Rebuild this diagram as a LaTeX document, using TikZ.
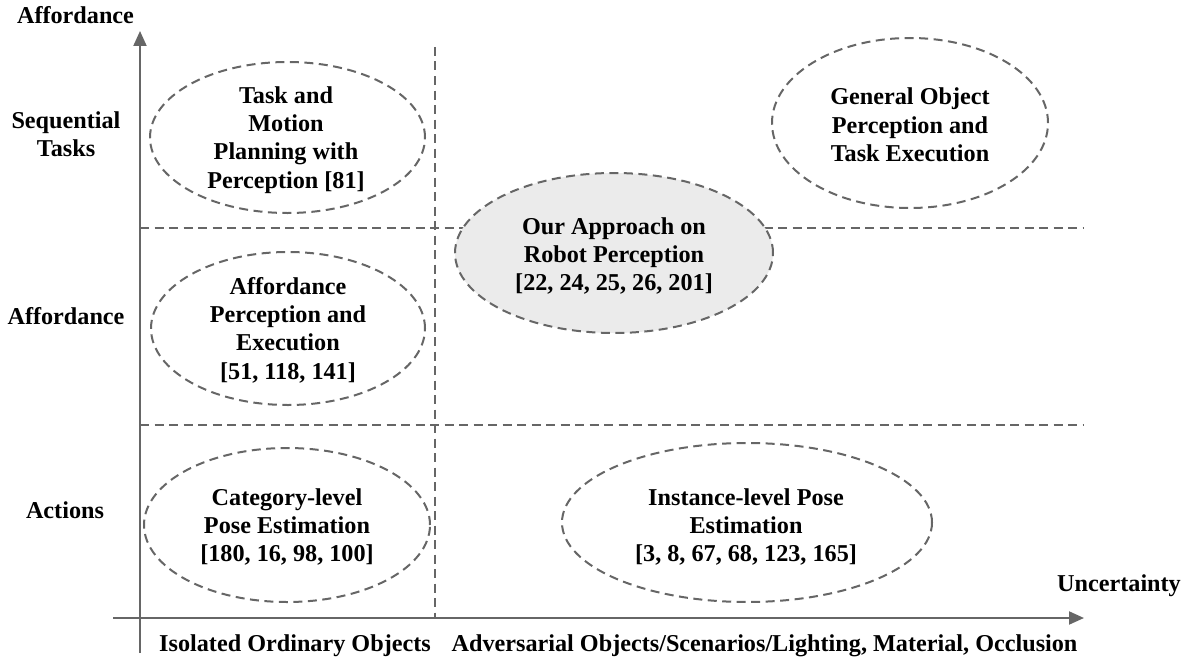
\documentclass[tikz,border=0pt]{standalone}
\usepackage{fontspec}
\setmainfont{Liberation Serif}
\usetikzlibrary{shapes.geometric,arrows.meta}
\definecolor{linegray}{HTML}{666666}
\definecolor{fillgray}{HTML}{EBEBEB}
\tikzset{
  lbl/.style={font=\fontsize{24.2}{28.3}\selectfont\bfseries, align=center, inner sep=0pt},
  oval/.style={ellipse, draw=linegray, line width=2pt, dash pattern=on 9pt off 5.5pt, inner sep=0pt},
  grid/.style={draw=linegray, line width=1.8pt, dash pattern=on 9pt off 5.5pt},
  axis/.style={draw=linegray, line width=2pt},
  axisarrow/.style={axis, -{Triangle[length=15pt,width=13pt]}},
}
\begin{document}
\begin{tikzpicture}[x=1pt,y=-1pt]
\useasboundingbox (0,0) rectangle (1188,661);
% axes end points
\coordinate (ybot) at (140,653);
\coordinate (ytop) at (140,31);
\coordinate (xleft) at (113,618);
\coordinate (xright) at (1084,618);
% grid end points
\coordinate (vtop) at (435,47);
\coordinate (vbot) at (435,618);
\coordinate (h1l) at (140,228);
\coordinate (h1r) at (1083,228);
\coordinate (h2l) at (140,425);
\coordinate (h2r) at (1083,425);
\draw[grid] (vtop) -- (vbot);
\draw[grid] (h1l) -- (h1r);
\draw[grid] (h2l) -- (h2r);
\draw[axisarrow] (ybot) -- (ytop);
\draw[axisarrow] (xleft) -- (xright);
% ellipses
\node[oval, minimum width=275pt, minimum height=151pt] (e1) at (287.5,137.5) {};
\node[oval, minimum width=274pt, minimum height=153pt] (e2) at (288,328.5) {};
\node[oval, minimum width=286pt, minimum height=154pt] (e3) at (287,525) {};
\node[oval, minimum width=370pt, minimum height=159pt] (e4) at (747,522.5) {};
\node[oval, minimum width=276pt, minimum height=170pt] (e5) at (910,123) {};
\node[oval, fill=fillgray, minimum width=318pt, minimum height=160pt] (e6) at (614,253) {};
% ellipse texts
\node[lbl] (t1) at (286,140) {Task and\\Motion\\Planning with\\Perception [81]};
\node[lbl] (t2) at (288,330) {Affordance\\Perception and\\Execution\\{}[51, 118, 141]};
\node[lbl] (t3) at (287,527) {Category-level\\Pose Estimation\\{}[180, 16, 98, 100]};
\node[lbl] (t4) at (746,527) {Instance-level Pose\\Estimation\\{}[3, 8, 67, 68, 123, 165]};
\node[lbl] (t5) at (910,125) {General Object\\Perception and\\Task Execution};
\node[lbl] (t6) at (614,256) {Our Approach on\\Robot Perception\\{}[22, 24, 25, 26, 201]};
% axis labels
\node[lbl] (ya) at (75.5,15) {Affordance};
\node[lbl] (r1) at (66,134) {Sequential\\Tasks};
\node[lbl] (r2) at (66,316) {Affordance};
\node[lbl] (r3) at (65,510) {Actions};
\node[lbl] (xa) at (1119,586) {Uncertainty};
\node[lbl] (c1) at (295,646) {Isolated Ordinary Objects};
\node[lbl] (c2) at (764.5,646) {Adversarial Objects/Scenarios/Lighting, Material, Occlusion};
\end{tikzpicture}
\end{document}
